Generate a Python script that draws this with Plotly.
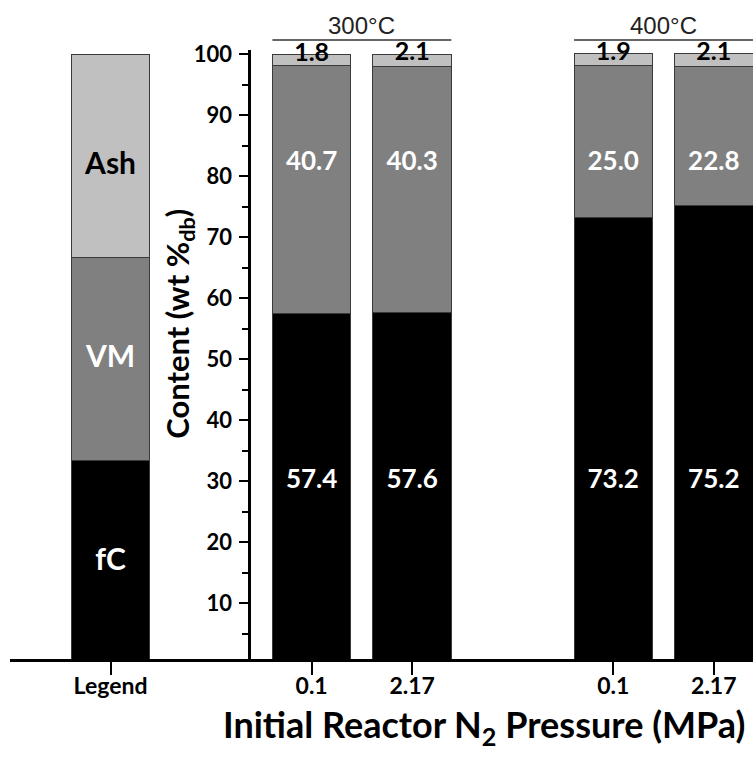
import plotly.graph_objects as go

# ---------------- data ----------------
groups = ["300°C", "400°C"]
pressures = ["0.1", "2.17", "0.1", "2.17"]
group_index = [0, 0, 1, 1]
fc = [57.4, 57.6, 73.2, 75.2]
vm = [40.7, 40.3, 25.0, 22.8]
ash = [1.8, 2.1, 1.9, 2.1]
legend_names = ["fC", "VM", "Ash"]
legend_values = [33.3, 33.3, 33.4]
y_ticks = [10, 20, 30, 40, 50, 60, 70, 80, 90, 100]

# ---------------- layout constants ----------------
legend_slot = 0
slots = [2, 3, 5, 6]
bar_w = 0.78
xr = [-1.0, 6.39]
yr = [0.82, 100.66]
y_axis_x = 1.378
colors = {"fC": "#000000", "VM": "#808080", "Ash": "#c0c0c0"}
FONT = "Lato"

def px(x):
    return (x - xr[0]) / (xr[1] - xr[0])

xs = [legend_slot] + slots
fig = go.Figure()
series = {"fC": fc, "VM": vm, "Ash": ash}
for i, name in enumerate(legend_names):
    fig.add_trace(go.Bar(
        x=xs, y=[legend_values[i]] + series[name], width=bar_w,
        marker=dict(color=colors[name], line=dict(color="#3a3a3a", width=1)),
        showlegend=False, hoverinfo="skip"))

tops = [a + b + c for a, b, c in zip(fc, vm, ash)]
fig.add_trace(go.Scatter(x=slots, y=tops, mode="text", text=[f"<b>{v:.1f}</b>" for v in ash],
                         textfont=dict(family=FONT, size=25, color="black"), cliponaxis=False,
                         showlegend=False, hoverinfo="skip"))
fig.add_trace(go.Scatter(x=slots, y=[82] * len(slots), mode="text", text=[f"<b>{v:.1f}</b>" for v in vm],
                         textfont=dict(family=FONT, size=26, color="white"), cliponaxis=False,
                         showlegend=False, hoverinfo="skip"))
fig.add_trace(go.Scatter(x=slots, y=[30] * len(slots), mode="text", text=[f"<b>{v:.1f}</b>" for v in fc],
                         textfont=dict(family=FONT, size=26, color="white"), cliponaxis=False,
                         showlegend=False, hoverinfo="skip"))
leg_y = [16.7, 50, 81.5]
leg_col = ["white", "white", "black"]
for name, yy, cc in zip(legend_names, leg_y, leg_col):
    fig.add_trace(go.Scatter(x=[legend_slot], y=[yy], mode="text", text=[f"<b>{name}</b>"],
                             textfont=dict(family=FONT, size=30, color=cc), cliponaxis=False,
                             showlegend=False, hoverinfo="skip"))

# group brackets and labels
shapes = []
annotations = []
for g, gname in enumerate(groups):
    members = [s for s, gi in zip(slots, group_index) if gi == g]
    x0 = min(members) - bar_w / 2
    x1 = max(members) + bar_w / 2
    shapes.append(dict(type="line", xref="paper", yref="paper", x0=px(x0), x1=px(x1),
                       y0=1.0164, y1=1.0164, line=dict(color="#333333", width=1.5)))
    annotations.append(dict(text=gname, xref="x", yref="paper", x=(x0 + x1) / 2, y=1.041,
                            yanchor="middle", xanchor="center", showarrow=False,
                            font=dict(family="Liberation Sans", size=24, color="#222222")))

annotations.append(dict(text="<b>Content (wt %<sub>db</sub>)</b>", xref="paper", yref="paper",
                        x=0.227, y=0.55, textangle=-90, showarrow=False,
                        xanchor="center", yanchor="middle",
                        font=dict(family=FONT, size=31, color="black")))
annotations.append(dict(text="<b>Initial Reactor N<sub>2</sub> Pressure (MPa)</b>", xref="paper", yref="paper",
                        x=0.638, y=-0.111, showarrow=False, xanchor="center", yanchor="middle",
                        font=dict(family=FONT, size=36, color="black")))

fig.update_layout(
    width=753, height=765, barmode="stack",
    margin=dict(l=10, r=0, t=50, b=106),
    plot_bgcolor="white", paper_bgcolor="white",
    shapes=shapes, annotations=annotations,
    xaxis=dict(range=xr, showgrid=False, zeroline=False, showline=True, linecolor="black", linewidth=2.5,
               ticks="outside", ticklen=13, tickwidth=2, tickcolor="black",
               tickvals=xs, ticktext=["<b>Legend</b>"] + [f"<b>{p}</b>" for p in pressures],
               tickfont=dict(family=FONT, size=23, color="black"), ticklabelstandoff=-8),
    yaxis=dict(range=yr, anchor="free", position=px(y_axis_x), showgrid=False, zeroline=False,
               showline=True, linecolor="black", linewidth=2.5,
               ticks="outside", ticklen=9, tickwidth=2, tickcolor="black",
               tickvals=y_ticks, ticktext=[f"<b>{t}</b>" for t in y_ticks],
               tickfont=dict(family=FONT, size=22, color="black"), ticklabelstandoff=3,
               minor=dict(ticks="outside", ticklen=6, tickwidth=2, tickcolor="black", dtick=5, tick0=0)),
)
fig.write_html("out.html")
